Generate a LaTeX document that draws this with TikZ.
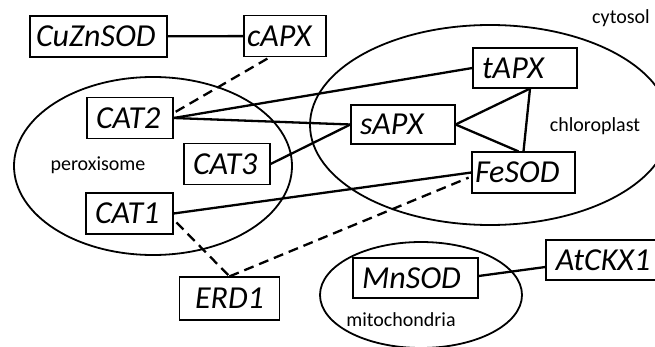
\documentclass[tikz,border=0pt]{standalone}
\usepackage{fontspec}
\setmainfont{Carlito}

\tikzset{
  protein/.style={rectangle, draw, line width=1.2pt, minimum height=41pt,
    inner xsep=9pt, inner ysep=2pt, align=left,
    font=\itshape\fontsize{32}{32}\selectfont},
  compartment/.style={draw, line width=1.8pt},
  organelle/.style={font=\fontsize{20}{20}\selectfont},
  link/.style={line width=2.3pt},
  weak/.style={line width=2.3pt, dash pattern=on 10pt off 6pt},
}

\begin{document}
\begin{tikzpicture}[x=1pt, y=-1pt]
        \useasboundingbox (0,0) rectangle (655,347);
        \clip (0,0) rectangle (655,347);

        % Compartments
        \draw[compartment] (153,166) ellipse [x radius=139pt, y radius=89pt];
        \draw[compartment] (490,125) ellipse [x radius=180pt, y radius=100pt];
        \draw[compartment] (421,295) ellipse [x radius=101pt, y radius=53pt];

        \node (cytosol) [organelle] at (621,18) {cytosol};
        \node (chloroplast) [organelle] at (595,126) {chloroplast};
        \node (peroxisome) [organelle] at (98,165) {peroxisome};
        \node (mitochondria) [organelle] at (401,320) {mitochondria};

        % Nodes
        \node (CuZnSOD) [protein, inner xsep=6pt, text width=125pt] at (98.5,36.5) {CuZnSOD};
        \node (cAPX) [protein, inner xsep=3pt, text width=76pt] at (285,36) {cAPX};
        \node (CAT2) [protein, text width=68pt] at (130,118) {CAT2};
        \node (CAT3) [protein, text width=68pt] at (227,164) {CAT3};
        \node (CAT1) [protein, text width=69pt] at (129.5,213.5) {CAT1};
        \node (ERD1) [protein, text width=82pt, align=center, minimum height=43pt] at (229.5,298.5) {ERD1};
        \node (tAPX) [protein, text width=86pt, minimum height=40pt] at (525,68) {tAPX};
        \node (sAPX) [protein, text width=86pt, minimum height=39pt] at (403,124.5) {sAPX};
        \node (FeSOD) [protein, inner xsep=3pt, text width=97pt] at (523.5,172.5) {FeSOD};
        \node (MnSOD) [protein, text width=107pt, minimum height=40pt] at (415.5,278) {MnSOD};
        \node (AtCKX1) [protein, text width=96pt, align=center, minimum height=40pt] at (603,260) {AtCKX1};

        % Edges
        \draw[link] (CuZnSOD) -- (cAPX);
        \draw[weak, shorten <=3pt] ([xshift=-15pt]cAPX.south) -- ([yshift=5pt]CAT2.east);
        \draw[link] (CAT2.east) -- (tAPX.west);
        \draw[link] (CAT2.east) -- (sAPX.west);
        \draw[link] (CAT3.east) -- (sAPX.west);
        \draw[link] (sAPX.east) -- ([xshift=5pt]tAPX.south);
        \draw[link] (sAPX.east) -- ([xshift=-5pt]FeSOD.north);
        \draw[link] ([xshift=5pt]tAPX.south) -- (FeSOD.north);
        \draw[link] (CAT1.east) -- (FeSOD.west);
        \draw[weak, shorten <=4pt] ([yshift=-6pt]CAT1.east) -- (ERD1.north);
        \draw[weak, shorten >=3pt] (ERD1.north) -- ([yshift=-4pt]FeSOD.west);
        \draw[link] ([yshift=2pt]MnSOD.east) -- ([yshift=-7pt]AtCKX1.west);

\end{tikzpicture}
\end{document}
